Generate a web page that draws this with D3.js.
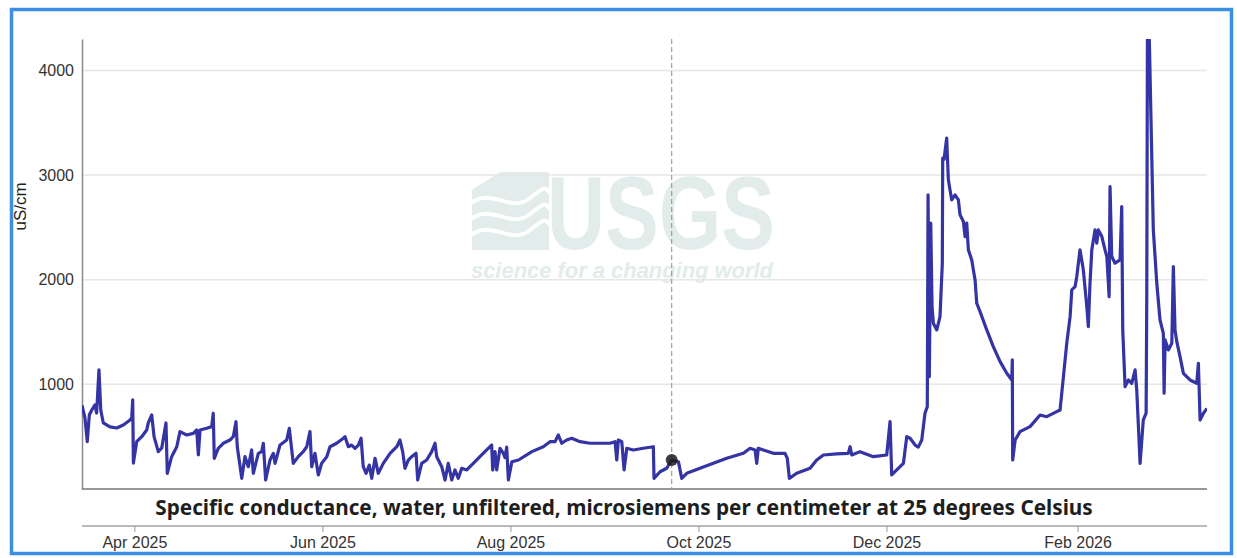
<!DOCTYPE html>
<html>
<head>
<meta charset="utf-8">
<script src="https://cdn.jsdelivr.net/npm/d3@7"></script>
<style>
  html, body { margin: 0; padding: 0; background: #fff; }
  svg { display: block; }
  .tick text { font-family: "Liberation Sans", Arial, sans-serif; fill: #333; }
</style>
</head>
<body>
<div id="chart"></div>
<script>
// readings (time, uS/cm) picked off the plot
const sampleTimes = [
  "2025-03-15 00", "2025-03-15 23", "2025-03-16 17", "2025-03-17 09", "2025-03-18 04", "2025-03-19 05", "2025-03-19 18", "2025-03-20 12", "2025-03-21 02", "2025-03-21 22",
  "2025-03-24 02", "2025-03-26 06", "2025-03-28 10", "2025-03-30 14", "2025-03-31 03", "2025-03-31 11", "2025-03-31 16", "2025-04-01 18", "2025-04-03 09", "2025-04-05 00",
  "2025-04-05 12", "2025-04-06 15", "2025-04-07 09", "2025-04-08 18", "2025-04-09 21", "2025-04-11 06", "2025-04-11 16", "2025-04-13 02", "2025-04-14 18", "2025-04-15 19",
  "2025-04-17 23", "2025-04-20 03", "2025-04-21 05", "2025-04-21 18", "2025-04-22 07", "2025-04-24 11", "2025-04-26 02", "2025-04-26 14", "2025-04-26 22", "2025-04-28 05",
  "2025-04-29 20", "2025-05-02 00", "2025-05-03 02", "2025-05-03 23", "2025-05-04 09", "2025-05-05 20", "2025-05-06 21", "2025-05-07 23", "2025-05-09 01", "2025-05-09 14",
  "2025-05-11 05", "2025-05-12 07", "2025-05-12 20", "2025-05-13 14", "2025-05-15 00", "2025-05-16 02", "2025-05-16 15", "2025-05-18 06", "2025-05-20 10", "2025-05-21 06",
  "2025-05-22 13", "2025-05-24 04", "2025-05-25 19", "2025-05-26 22", "2025-05-27 23", "2025-05-28 13", "2025-05-29 14", "2025-05-30 16", "2025-05-31 18", "2025-06-02 10",
  "2025-06-03 11", "2025-06-05 15", "2025-06-07 19", "2025-06-08 08", "2025-06-09 10", "2025-06-10 12", "2025-06-11 14", "2025-06-12 16", "2025-06-13 13", "2025-06-14 06",
  "2025-06-15 04", "2025-06-16 05", "2025-06-17 00", "2025-06-18 02", "2025-06-19 03", "2025-06-20 18", "2025-06-22 23", "2025-06-25 03", "2025-06-26 04", "2025-06-27 01",
  "2025-06-27 19", "2025-06-28 21", "2025-06-29 23", "2025-07-01 09", "2025-07-01 22", "2025-07-03 05", "2025-07-04 20", "2025-07-06 11", "2025-07-07 13", "2025-07-08 02",
  "2025-07-09 17", "2025-07-10 19", "2025-07-11 20", "2025-07-12 23", "2025-07-14 00", "2025-07-15 02", "2025-07-16 05", "2025-07-17 20", "2025-07-19 23", "2025-07-22 16",
  "2025-07-25 09", "2025-07-25 22", "2025-07-26 06", "2025-07-27 00", "2025-07-27 13", "2025-07-28 15", "2025-07-29 17", "2025-07-30 06", "2025-07-30 19", "2025-07-31 08",
  "2025-08-01 11", "2025-08-03 15", "2025-08-07 23", "2025-08-11 16", "2025-08-13 20", "2025-08-15 11", "2025-08-16 13", "2025-08-17 16", "2025-08-19 06", "2025-08-20 21",
  "2025-08-23 14", "2025-08-26 20", "2025-08-30 02", "2025-09-02 08", "2025-09-03 23", "2025-09-04 12", "2025-09-05 00", "2025-09-06 03", "2025-09-06 21", "2025-09-07 18",
  "2025-09-09 21", "2025-09-13 03", "2025-09-16 09", "2025-09-16 14", "2025-09-18 13", "2025-09-20 17", "2025-09-22 08", "2025-09-24 12", "2025-09-25 14", "2025-09-27 05",
  "2025-10-01 12", "2025-10-05 20", "2025-10-10 04", "2025-10-15 14", "2025-10-17 18", "2025-10-19 09", "2025-10-19 22", "2025-10-20 10", "2025-10-22 01", "2025-10-25 07",
  "2025-10-29 02", "2025-10-29 20", "2025-10-30 12", "2025-11-01 21", "2025-11-06 05", "2025-11-08 09", "2025-11-10 13", "2025-11-14 21", "2025-11-18 15", "2025-11-19 05",
  "2025-11-19 18", "2025-11-22 10", "2025-11-26 18", "2025-12-01 02", "2025-12-02 04", "2025-12-02 17", "2025-12-04 08", "2025-12-06 12", "2025-12-07 14", "2025-12-08 16",
  "2025-12-10 07", "2025-12-11 08", "2025-12-12 11", "2025-12-13 12", "2025-12-14 06", "2025-12-14 12", "2025-12-14 22", "2025-12-15 09", "2025-12-15 19", "2025-12-16 05",
  "2025-12-17 08", "2025-12-18 09", "2025-12-19 03", "2025-12-19 06", "2025-12-19 17", "2025-12-20 00", "2025-12-20 13", "2025-12-21 02", "2025-12-21 15", "2025-12-22 04",
  "2025-12-23 06", "2025-12-24 08", "2025-12-24 21", "2025-12-25 23", "2025-12-26 12", "2025-12-27 01", "2025-12-27 14", "2025-12-28 16", "2025-12-29 18", "2025-12-30 07",
  "2025-12-31 09", "2026-01-02 13", "2026-01-04 16", "2026-01-06 21", "2026-01-09 01", "2026-01-10 16", "2026-01-10 20", "2026-01-10 23", "2026-01-11 18", "2026-01-13 08",
  "2026-01-16 14", "2026-01-19 20", "2026-01-22 00", "2026-01-25 06", "2026-01-26 08", "2026-01-27 10", "2026-01-28 12", "2026-01-29 14", "2026-01-30 03", "2026-01-31 05",
  "2026-01-31 18", "2026-02-01 19", "2026-02-02 21", "2026-02-04 00", "2026-02-04 12", "2026-02-05 01", "2026-02-05 15", "2026-02-06 16", "2026-02-07 06", "2026-02-07 18",
  "2026-02-08 21", "2026-02-09 22", "2026-02-10 12", "2026-02-11 00", "2026-02-11 06", "2026-02-11 13", "2026-02-12 02", "2026-02-13 04", "2026-02-14 19", "2026-02-15 08",
  "2026-02-15 16", "2026-02-16 10", "2026-02-17 12", "2026-02-18 14", "2026-02-19 16", "2026-02-20 05", "2026-02-21 07", "2026-02-22 08", "2026-02-23 06", "2026-02-23 11",
  "2026-02-23 16", "2026-02-24 07", "2026-02-25 14", "2026-02-26 17", "2026-02-27 18", "2026-02-28 20", "2026-03-01 02", "2026-03-01 10", "2026-03-02 11", "2026-03-03 14",
  "2026-03-04 02", "2026-03-04 15", "2026-03-05 05", "2026-03-06 06", "2026-03-07 08", "2026-03-09 12", "2026-03-11 16", "2026-03-12 05", "2026-03-12 18", "2026-03-13 20",
  "2026-03-15 00"
];

const conductance = [
  800, 680, 452, 707, 755, 803, 726, 1138, 755, 631,
  593, 583, 612, 660, 680, 851, 248, 452, 500, 564,
  631, 707, 500, 357, 392, 631, 150, 309, 404, 548,
  516, 532, 564, 325, 564, 580, 596, 724, 293, 389,
  437, 468, 500, 643, 404, 102, 309, 213, 373, 150,
  341, 357, 437, 86, 277, 341, 245, 420, 468, 580,
  245, 309, 357, 404, 548, 213, 341, 134, 245, 309,
  404, 437, 485, 500, 404, 420, 389, 420, 485, 213,
  150, 229, 102, 293, 150, 245, 341, 404, 468, 357,
  198, 277, 309, 341, 86, 245, 277, 357, 437, 309,
  213, 86, 245, 86, 182, 102, 198, 182, 245, 325,
  404, 420, 182, 357, 182, 389, 341, 300, 400, 86,
  261, 277, 357, 404, 452, 452, 516, 437, 468, 485,
  452, 437, 437, 437, 452, 277, 468, 452, 182, 389,
  373, 389, 404, 102, 165, 198, 277, 261, 102, 150,
  198, 245, 293, 341, 389, 373, 245, 389, 373, 341,
  341, 293, 102, 150, 198, 277, 325, 335, 341, 404,
  325, 357, 309, 325, 643, 134, 182, 245, 500, 485,
  420, 400, 468, 724, 787, 2811, 1074, 2540, 1743, 1584,
  1520, 1647, 2158, 3161, 3150, 3225, 3353, 2954, 2858, 2763,
  2811, 2763, 2620, 2556, 2412, 2540, 2285, 2189, 1998, 1775,
  1695, 1520, 1360, 1217, 1106, 1042, 1233, 277, 468, 548,
  596, 707, 691, 739, 755, 1074, 1393, 1647, 1902, 1934,
  2030, 2285, 2094, 1743, 1552, 1966, 2285, 2476, 2349, 2476,
  2412, 2285, 2221, 1966, 1838, 2890, 2221, 2158, 2189, 2699,
  1520, 978, 1042, 1010, 1138, 946, 245, 660, 724, 1838,
  4290, 4290, 2476, 1966, 1616, 1488, 915, 1425, 1329, 1393,
  2125, 1520, 1408, 1265, 1106, 1042, 1010, 1201, 660, 724,
  770
];

const timeRange = ["2025-03-15 00", "2026-03-15 00"];
const valueRange = [0, 4300];
const yTicks = [1000, 2000, 3000, 4000];
const xTicks = ["2025-04-01 00", "2025-06-01 00", "2025-08-01 00", "2025-10-01 00", "2025-12-01 00", "2026-02-01 00"];
const cursorTime = "2025-09-22 08";
const cursorValue = 277;
const yLabel = "uS/cm";
const titleText = "Specific conductance, water, unfiltered, microsiemens per centimeter at 25 degrees Celsius";

const width = 1237, height = 558;
const margin = {top: 39, right: 30, bottom: 69, left: 82};
const lineColor = "#3434a4";

const parseTime = d3.timeParse("%Y-%m-%d %H");
const data = sampleTimes.map((t, i) => ({t: parseTime(t), v: conductance[i]}));

const svg = d3.select("#chart").append("svg")
  .attr("width", width)
  .attr("height", height);

// blue frame round the whole panel
svg.append("rect")
  .attr("x", 11.5).attr("y", 9.5)
  .attr("width", 1220).attr("height", 544)
  .attr("fill", "#fff")
  .attr("stroke", "#3a8fe3")
  .attr("stroke-width", 3.5);

const x = d3.scaleTime()
  .domain(timeRange.map(parseTime))
  .range([margin.left, width - margin.right]);

const y = d3.scaleLinear()
  .domain(valueRange)
  .range([height - margin.bottom, margin.top]);

const plotW = x.range()[1] - x.range()[0];

// watermark
const wm = svg.append("g").attr("class", "watermark");
const wmColor = "#e2ecea";
wm.append("path")
  .attr("d", "M472,172 L549,172 L549,250 L472,250 Z")
  .attr("fill", wmColor);
[196, 212, 228].forEach(function(yy) {
  wm.append("path")
    .attr("d", "M470," + (yy + 8) + " C490," + (yy - 10) + " 510," + (yy + 18) + " 530," + (yy + 2) +
               " S545," + (yy - 6) + " 551," + (yy - 2))
    .attr("fill", "none")
    .attr("stroke", "#fff")
    .attr("stroke-width", 4);
});
wm.append("path")
  .attr("d", "M472,172 L500,172 L472,190 Z")
  .attr("fill", "#fff");
wm.append("text")
  .attr("x", 547).attr("y", 249)
  .attr("textLength", 228)
  .attr("lengthAdjust", "spacingAndGlyphs")
  .style("font-family", "'Liberation Sans Narrow', 'Liberation Sans', Arial, sans-serif")
  .style("font-weight", "bold")
  .style("font-size", "104px")
  .attr("fill", wmColor)
  .text("USGS");
wm.append("text")
  .attr("x", 471).attr("y", 278)
  .attr("textLength", 302)
  .attr("lengthAdjust", "spacingAndGlyphs")
  .style("font-family", "'Liberation Sans', Arial, sans-serif")
  .style("font-weight", "bold")
  .style("font-style", "italic")
  .style("font-size", "22px")
  .attr("fill", wmColor)
  .text("science for a changing world");

// horizontal grid
svg.append("g")
  .selectAll("line")
  .data(yTicks)
  .enter().append("line")
    .attr("x1", x.range()[0])
    .attr("x2", x.range()[1])
    .attr("y1", d => y(d))
    .attr("y2", d => y(d))
    .attr("stroke", "#e6e6e6")
    .attr("stroke-width", 1.5);

// left axis
const yAxis = svg.append("g")
  .attr("transform", "translate(" + margin.left + ",0)")
  .call(d3.axisLeft(y).tickValues(yTicks).tickSize(0).tickPadding(8).tickFormat(d3.format("d")));
yAxis.select(".domain").attr("stroke", "#8a8a8a").attr("stroke-width", 1.5);
yAxis.selectAll(".tick text").style("font-size", "16px");

svg.append("text")
  .attr("transform", "translate(26," + y(2700) + ") rotate(-90)")
  .attr("text-anchor", "middle")
  .style("font-family", "'Liberation Sans', Arial, sans-serif")
  .style("font-size", "17px")
  .attr("fill", "#222")
  .text(yLabel);

// bottom line of the plot
svg.append("line")
  .attr("x1", x.range()[0]).attr("x2", x.range()[1])
  .attr("y1", y(0)).attr("y2", y(0))
  .attr("stroke", "#777")
  .attr("stroke-width", 1.5);

// data line
svg.append("clipPath").attr("id", "plotClip")
  .append("rect")
    .attr("x", x.range()[0]).attr("y", y.range()[1])
    .attr("width", plotW).attr("height", y.range()[0] - y.range()[1]);

const line = d3.line()
  .x(d => x(d.t))
  .y(d => y(d.v));

svg.append("path")
  .datum(data)
  .attr("clip-path", "url(#plotClip)")
  .attr("fill", "none")
  .attr("stroke", lineColor)
  .attr("stroke-width", 3.2)
  .attr("stroke-linejoin", "round")
  .attr("d", line);

// hover cursor
const cx = x(parseTime(cursorTime));
svg.append("line")
  .attr("x1", cx).attr("x2", cx)
  .attr("y1", y.range()[1]).attr("y2", y(0))
  .attr("stroke", "#8c8c8c")
  .attr("stroke-width", 1)
  .attr("stroke-dasharray", "5,3");
svg.append("circle")
  .attr("cx", cx).attr("cy", y(cursorValue))
  .attr("r", 6)
  .attr("fill", "#1c1c1c")
  .attr("fill-opacity", 0.85);

// parameter title
const title = svg.append("text")
  .attr("x", 624).attr("y", 515)
  .attr("text-anchor", "middle")
  .style("font-family", "'Noto Sans', 'Open Sans', sans-serif")
  .style("font-weight", "bold")
  .style("font-size", "19px")
  .attr("fill", "#1e1e1e")
  .text(titleText);
let tw = title.node().getComputedTextLength();
title.style("font-size", (19 * 938 / tw).toFixed(2) + "px");

// time axis
const xAxis = svg.append("g")
  .attr("transform", "translate(0,526)")
  .call(d3.axisBottom(x)
    .tickValues(xTicks.map(parseTime))
    .tickSize(6)
    .tickPadding(5)
    .tickFormat(d3.timeFormat("%b %Y")));
xAxis.select(".domain").attr("stroke", "#777").attr("stroke-width", 1.2).attr("d", "M" + x.range()[0] + ",0H" + x.range()[1]);
xAxis.selectAll(".tick line").attr("stroke", "#999");
xAxis.selectAll(".tick text").style("font-size", "16px");
</script>
</body>
</html>
